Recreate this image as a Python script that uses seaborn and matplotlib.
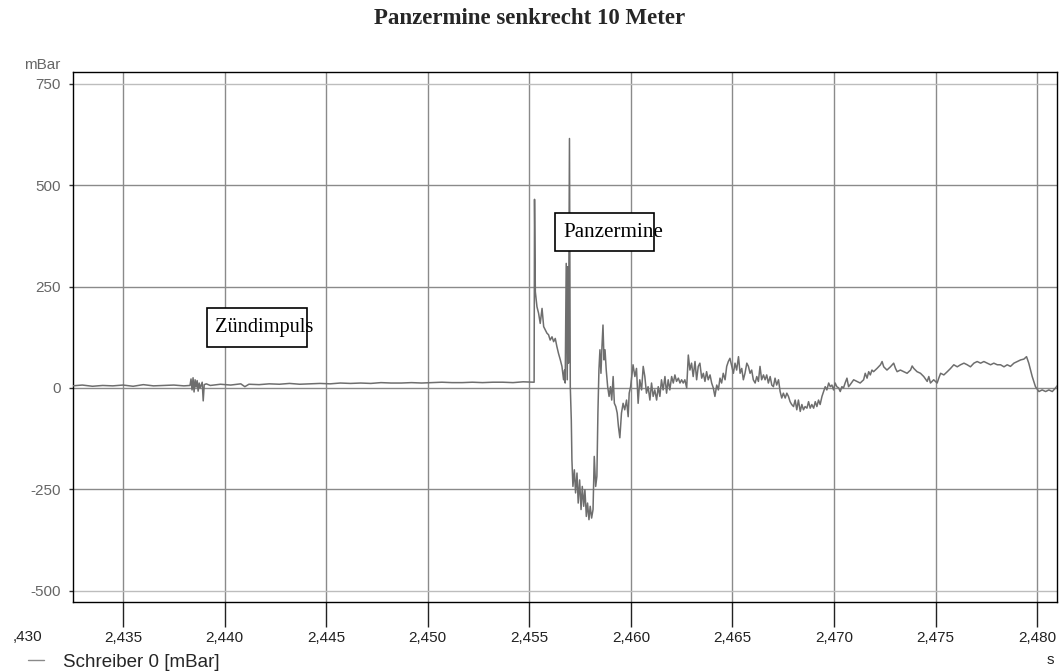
import numpy as np
import pandas as pd
import seaborn as sns
import matplotlib.pyplot as plt
from matplotlib.patches import Rectangle
from matplotlib.lines import Line2D
import matplotlib.transforms as mtrans

# Zeit in ms, Druck in mBar
t_ms = [
    2432.5, 2433.0, 2433.5, 2434.0, 2434.5, 2435.0, 2435.5, 2436.0, 2436.5, 2437.0, 2437.5, 2438.0, 2438.3,
    2438.35, 2438.40, 2438.45, 2438.50, 2438.55, 2438.60, 2438.65, 2438.70, 2438.75, 2438.80, 2438.90, 2438.95, 2439.00, 2439.10,
    2439.3, 2439.8, 2440.3, 2440.8, 2441.0, 2441.2, 2441.7, 2442.2, 2442.7, 2443.2, 2443.7, 2444.2, 2444.7, 2445.2,
    2445.7, 2446.2, 2446.7, 2447.2, 2447.7, 2448.2, 2448.7, 2449.2, 2449.7, 2450.2, 2450.7, 2451.2, 2451.7, 2452.2,
    2452.7, 2453.2, 2453.7, 2454.2, 2454.7, 2455.2,
    2455.24, 2455.26, 2455.30, 2455.38, 2455.46, 2455.54, 2455.63, 2455.71, 2455.79, 2455.87, 2455.95, 2456.03,
    2456.12, 2456.20, 2456.28, 2456.36, 2456.44, 2456.53, 2456.61, 2456.69, 2456.74, 2456.77, 2456.82, 2456.87,
    2456.90, 2456.93, 2456.98, 2457.02, 2457.07, 2457.10, 2457.15, 2457.22, 2457.28, 2457.35, 2457.41, 2457.48,
    2457.55, 2457.61, 2457.68, 2457.74, 2457.81, 2457.87, 2457.94, 2458.00, 2458.07, 2458.14, 2458.20, 2458.27,
    2458.33, 2458.38, 2458.43, 2458.48, 2458.53, 2458.58, 2458.63, 2458.68, 2458.73, 2458.79, 2458.86, 2458.93,
    2459.00, 2459.06, 2459.13, 2459.19, 2459.26, 2459.33, 2459.39, 2459.46,
    2459.54, 2459.62, 2459.70, 2459.79, 2459.87, 2459.92, 2459.99, 2460.11, 2460.20, 2460.28, 2460.36, 2460.44,
    2460.53, 2460.61, 2460.69, 2460.77, 2460.85, 2460.94, 2461.02, 2461.10, 2461.18, 2461.27, 2461.35, 2461.43,
    2461.51, 2461.59, 2461.68, 2461.76, 2461.84, 2461.92, 2462.01, 2462.09, 2462.17, 2462.25, 2462.34, 2462.42,
    2462.50, 2462.58, 2462.66, 2462.75, 2462.83, 2462.91, 2462.99, 2463.07, 2463.16, 2463.24, 2463.32, 2463.40,
    2463.49, 2463.57, 2463.65, 2463.73, 2463.81, 2463.90, 2463.98, 2464.06, 2464.14, 2464.23, 2464.31, 2464.39,
    2464.47, 2464.55, 2464.64, 2464.72, 2464.80, 2464.88, 2464.97, 2465.05, 2465.13, 2465.21, 2465.30, 2465.38,
    2465.46, 2465.54, 2465.62, 2465.71, 2465.79, 2465.87, 2465.95, 2466.03, 2466.12, 2466.20, 2466.28, 2466.36,
    2466.44, 2466.53, 2466.61, 2466.69, 2466.77, 2466.86, 2466.94, 2467.02, 2467.10, 2467.18, 2467.27, 2467.35,
    2467.43, 2467.51, 2467.60, 2467.68, 2467.76, 2467.84, 2467.92, 2468.01, 2468.09, 2468.17, 2468.25, 2468.34,
    2468.42, 2468.50, 2468.58, 2468.67, 2468.75, 2468.83, 2468.91, 2469.00, 2469.08, 2469.16, 2469.24, 2469.32,
    2469.41, 2469.49, 2469.57, 2469.65, 2469.74, 2469.82, 2469.90, 2469.98, 2470.06, 2470.14, 2470.23, 2470.31,
    2470.39, 2470.47, 2470.55, 2470.64, 2470.72, 2470.80, 2470.97, 2471.13, 2471.29, 2471.46, 2471.54, 2471.63,
    2471.71, 2471.79, 2471.87, 2471.95, 2472.12, 2472.29, 2472.37, 2472.45, 2472.61, 2472.78, 2472.94, 2473.03,
    2473.11, 2473.27, 2473.44, 2473.60, 2473.77, 2473.85, 2473.93, 2474.09, 2474.26, 2474.42, 2474.59, 2474.67,
    2474.75, 2474.91, 2475.08, 2475.16, 2475.25, 2475.41, 2475.58, 2475.74, 2475.90, 2476.07, 2476.23, 2476.40,
    2476.56, 2476.72, 2476.89, 2477.05, 2477.22, 2477.38, 2477.55, 2477.71, 2477.87, 2478.04, 2478.20, 2478.37,
    2478.53, 2478.69, 2478.86, 2479.02, 2479.19, 2479.35, 2479.48, 2479.59, 2479.76, 2479.92, 2480.09, 2480.25,
    2480.42, 2480.58, 2480.75, 2480.91, 2481.02,
]
druck = [
    5, 7, 4, 6, 5, 7, 4, 8, 5, 6, 7, 5, 6,
    22, -5, 25, -10, 20, 2, 18, -8, 12, 0, 14, -32, 8, 10,
    6, 9, 7, 10, 3, 9, 8, 10, 9, 11, 9, 10, 11, 10,
    12, 11, 12, 11, 13, 12, 12, 13, 12, 13, 14, 13, 13, 14,
    13, 14, 14, 13, 15, 14,
    14, 465, 237, 200, 184, 159, 196, 151, 143, 135, 131, 118,
    126, 114, 122, 102, 85, 69, 53, 20, 44, 12, 307, 20,
    299, 61, 615, 3, -79, -177, -243, -202, -259, -210, -284, -227,
    -300, -243, -292, -251, -317, -284, -325, -292, -321, -300, -169, -243,
    -218, -62, 44, 94, 36, 102, 155, 69, 94, 44, 3, -21,
    3, -30, 28, -38, -46, -62, -95, -123,
    -62, -38, -54, -30, -71, -13, 3, 57, 28, 48, -38, 20,
    -5, 53, 28, -13, 3, -30, 12, -21, -5, -30, 3, -21,
    20, -5, 28, -13, 20, -5, 28, 12, 32, 16, 24, 12,
    20, 12, 20, 0, 81, 44, 61, 28, 65, 20, 53, 61,
    24, 36, 16, 40, 20, 32, 12, 0, -21, 7, -5, 24,
    12, 36, 20, 53, 65, 73, 53, 36, 61, 44, 77, 36,
    48, 20, 36, 61, 53, 36, 44, 20, 12, 28, 16, 53,
    20, 32, 20, 32, 12, 28, 7, 3, 24, 7, 20, -9,
    -25, -13, -25, -13, -21, -34, -41, -46, -30, -54, -30, -58,
    -41, -54, -46, -50, -34, -50, -41, -50, -34, -46, -30, -41,
    -21, -9, 3, -5, 12, 3, 7, -5, 12, 3, 0, -9,
    3, 0, 12, 24, 3, 8, 20, 16, 12, 20, 36, 24,
    40, 32, 44, 40, 48, 57, 65, 52, 44, 52, 61, 48,
    40, 44, 40, 36, 44, 54, 48, 40, 36, 28, 16, 28,
    12, 20, 12, 24, 36, 32, 40, 48, 57, 52, 57, 61,
    57, 52, 61, 65, 61, 65, 61, 57, 61, 57, 57, 52,
    57, 53, 61, 65, 69, 71, 77, 61, 28, 3, -9, -5,
    -9, -5, -9, 0, 7,
]

x_ticks = [2.435, 2.440, 2.445, 2.450, 2.455, 2.460, 2.465, 2.470, 2.475, 2.480]
y_ticks = [-500, -250, 0, 250, 500, 750]

df = pd.DataFrame({"t": np.array(t_ms) / 1000.0, "p": druck})

sns.set_style("white")
fig = plt.figure(figsize=(10.59, 6.71), dpi=100)
ax = fig.add_axes([73 / 1059, 69 / 671, 984 / 1059, 530 / 671])

sns.lineplot(data=df, x="t", y="p", ax=ax, color="#6e6e6e", linewidth=1.1,
             estimator=None, sort=False, zorder=3)

ax.set_xlim(2.43254, 2.48098)
ax.set_ylim(-528, 779)
ax.set_xticks(x_ticks)
ax.set_yticks(y_ticks)
ax.set_xticklabels([f"{v:.3f}".replace(".", ",") for v in x_ticks],
                   fontsize=11, color="#222222", family="Liberation Sans")
ax.set_yticklabels([str(v) for v in y_ticks], fontsize=11, color="#666666",
                   family="Liberation Sans")
ax.tick_params(axis="x", bottom=True, direction="out", length=18, width=1,
               color="#222222", pad=3)
ax.tick_params(axis="y", left=True, direction="out", length=3, width=1,
               color="#333333", pad=6)
ax.set_xlabel("")
ax.set_ylabel("")
ax.grid(True, color="#8a8a8a", linewidth=1.0, zorder=1)
# oberste und unterste Rasterlinie heller
for gl, val in zip(ax.get_ygridlines(), y_ticks):
    if val in (750, -500):
        gl.set_color("#bdbdbd")
for s in ax.spines.values():
    s.set_color("black")
    s.set_linewidth(1.0)

# am Bildrand abgeschnittenes Label
trans = mtrans.blended_transform_factory(fig.transFigure, ax.transAxes)
ax.text(42 / 1059, -0.066, ",430", transform=trans, ha="right", va="center",
        fontsize=11, color="#222222", family="Liberation Sans", clip_on=False)

# Annotationen
ax.add_patch(Rectangle((2.43912, 102), 0.00493, 94, facecolor="white",
                       edgecolor="black", linewidth=1.2, zorder=5))
ax.text(2.43953, 148, "Zündimpuls", fontsize=14.7, family="Liberation Serif",
        ha="left", va="center", color="black", zorder=6)
ax.add_patch(Rectangle((2.45625, 337), 0.00491, 95, facecolor="white",
                       edgecolor="black", linewidth=1.2, zorder=5))
ax.text(2.45669, 382, "Panzermine", fontsize=15.2, family="Liberation Serif",
        ha="left", va="center", color="black", zorder=6)

fig.text(0.5, 1 - 18 / 671, "Panzermine senkrecht 10 Meter", ha="center", va="center",
         fontsize=16.5, fontweight="bold", family="Liberation Serif")
fig.text(24 / 1059, 1 - 65 / 671, "mBar", ha="left", va="center", fontsize=11,
         color="#666666", family="Liberation Sans")
fig.text(1050 / 1059, 1 - 660 / 671, "s", ha="center", va="center", fontsize=11,
         color="#222222", family="Liberation Sans")

handle = Line2D([], [], color="#8a8a8a", linewidth=1.0)
fig.legend([handle], ["Schreiber 0 [mBar]"], loc="center left",
           bbox_to_anchor=(28 / 1059, 1 - 662 / 671), frameon=False,
           handlelength=0.85, handletextpad=1.0, borderpad=0, borderaxespad=0,
           prop={"family": "Liberation Sans", "size": 13.5})

fig.savefig("out.png", dpi=100)
